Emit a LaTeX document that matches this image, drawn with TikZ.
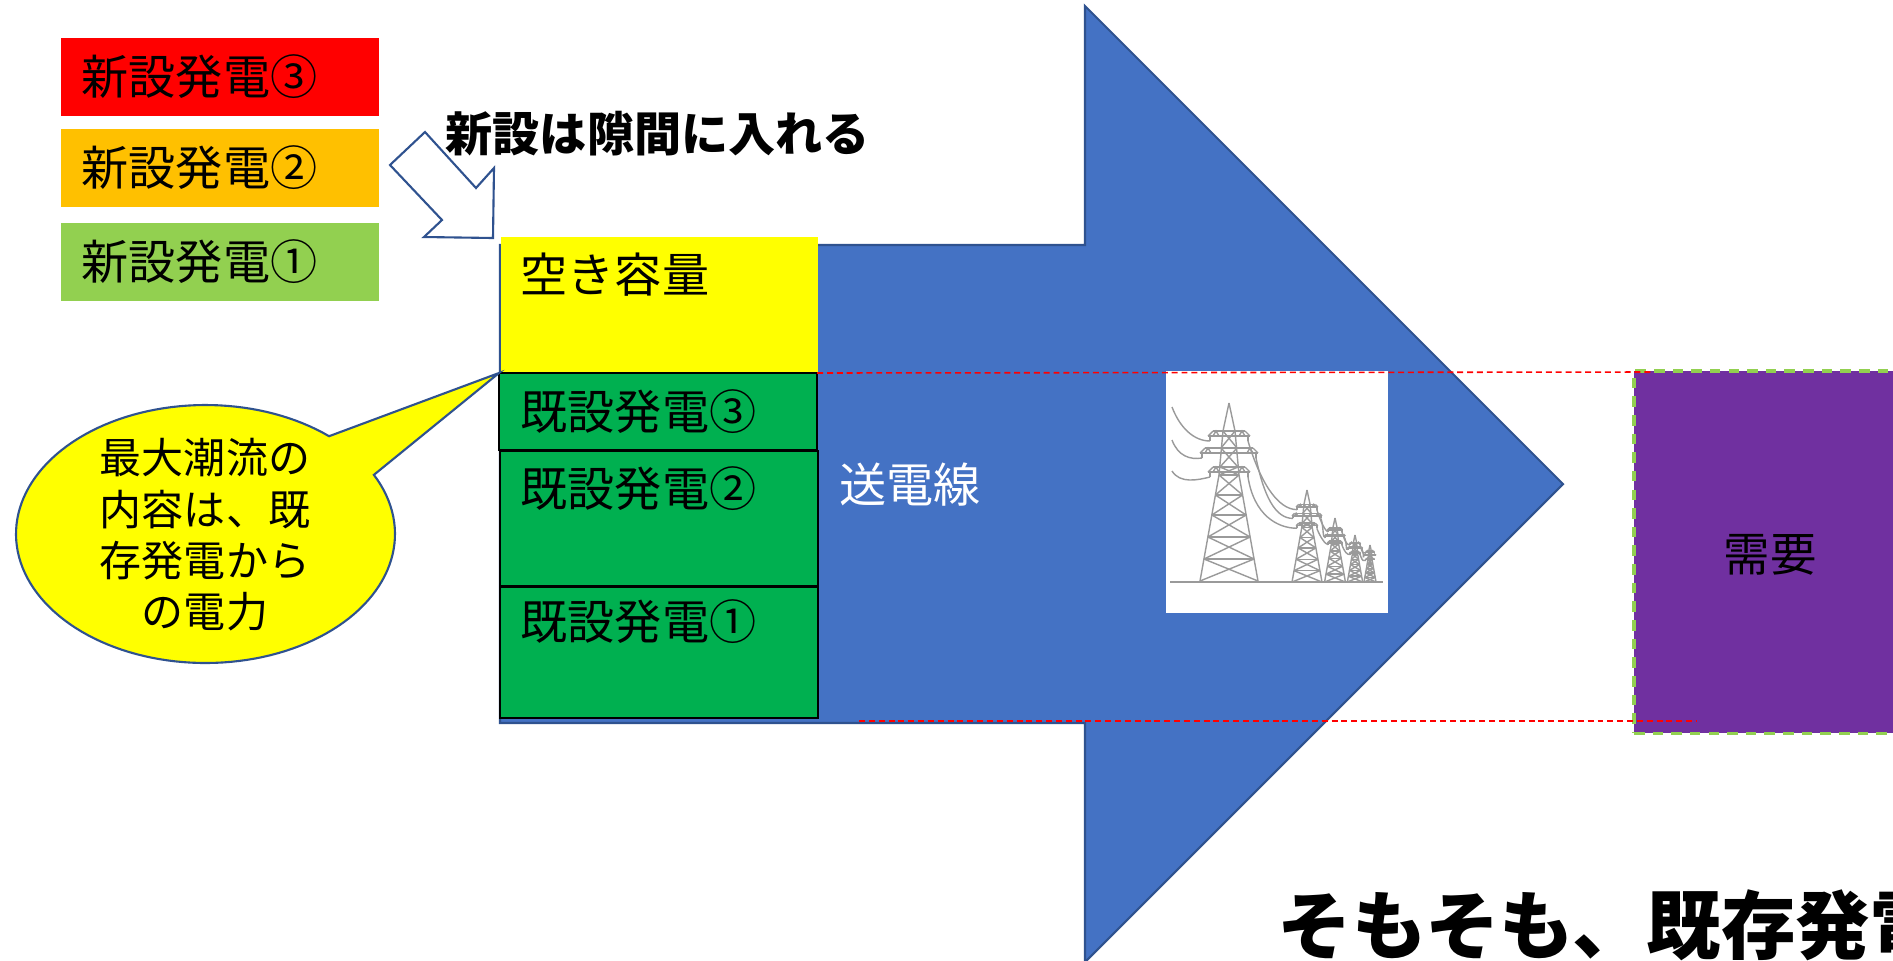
\documentclass[tikz,border=0pt]{standalone}
\usepackage{fontspec}
\setmainfont{Noto Sans CJK JP}
\definecolor{arrowblue}{HTML}{4472C4}
\definecolor{arrowedge}{HTML}{2F528F}
\definecolor{newred}{HTML}{FF0000}
\definecolor{neworange}{HTML}{FFC000}
\definecolor{newgreen}{HTML}{92D050}
\definecolor{oldgreen}{HTML}{00B050}
\definecolor{freeyellow}{HTML}{FFFF00}
\definecolor{demandpurple}{HTML}{7030A0}
\definecolor{wiregray}{HTML}{9A9A9A}

\tikzset{
  box/.style={anchor=north west, inner sep=0pt, outer sep=0pt},
  legendbox/.style={box, minimum width=3.18cm, minimum height=0.78cm},
  genbox/.style={box, fill=oldgreen, draw=black, line width=0.6pt, minimum width=3.18cm},
  lbl/.style={anchor=west, inner sep=0pt, font=\fontsize{13.4}{16}\selectfont},
  reddash/.style={draw=newred, line width=0.45pt, dash pattern=on 1.7pt off 1.1pt},
  wire/.style={draw=wiregray, line width=0.4pt},
  pylon/.pic={
    \begin{scope}[wire]
      % spire, body and legs
      \draw (0,0) -- (-6,28) -- (-10,72) -- (-29,178);
      \draw (0,0) -- (6,28) -- (10,72) -- (29,178);
      % three cross-arms with insulator strings
      \foreach \yy/\w in {28/21, 45/29, 64/21}{
        \draw (-\w,\yy+5) -- (\w,\yy+5);
        \draw (-\w+5,\yy) -- (\w-5,\yy);
        \draw (-\w,\yy+5) -- (-\w+5,\yy) (\w,\yy+5) -- (\w-5,\yy);
        \draw (-\w+5,\yy+5) -- (-\w+8,\yy) -- (-\w+11,\yy+5)
              (\w-5,\yy+5) -- (\w-8,\yy) -- (\w-11,\yy+5);
        \draw (-\w+2,\yy+5) -- (-\w+2,\yy+10) (\w-2,\yy+5) -- (\w-2,\yy+10);
      }
      % lattice of the upper body
      \draw (-6,28) -- (8,45) -- (-9,64) -- (10,72);
      \draw (6,28) -- (-8,45) -- (9,64) -- (-10,72);
      % lattice of the legs
      \foreach \a/\b in {72/92, 92/112, 112/134, 134/156, 156/178}{
        \draw ({-10-(\a-72)*0.1792},\a) -- ({10+(\b-72)*0.1792},\b);
        \draw ({10+(\a-72)*0.1792},\a) -- ({-10-(\b-72)*0.1792},\b);
        \draw ({-10-(\a-72)*0.1792},\a) -- ({10+(\a-72)*0.1792},\a);
      }
    \end{scope}
    \coordinate (-l1) at (-19,38);
    \coordinate (-l2) at (-27,55);
    \coordinate (-l3) at (-19,74);
    \coordinate (-r1) at (19,38);
    \coordinate (-r2) at (27,55);
    \coordinate (-r3) at (19,74);
  }
}

\begin{document}
\begin{tikzpicture}[x=0.01cm, y=-0.01cm]
\useasboundingbox (0,0) rectangle (1893,960);

% transmission line drawn as a large block arrow
\filldraw[fill=arrowblue, draw=arrowedge, line width=0.6pt, line join=miter]
  (500,245) -- (1085,245) -- (1085,6) -- (1563,484) -- (1085,962)
  -- (1085,723) -- (500,723) -- cycle;

% new generation legend
\node[legendbox, fill=newred]    (n3) at (61,38)  {};
\node[legendbox, fill=neworange] (n2) at (61,129) {};
\node[legendbox, fill=newgreen]  (n1) at (61,223) {};
\node[lbl] (n3t) at (81,77)  {新設発電③};
\node[lbl] (n2t) at (81,168) {新設発電②};
\node[lbl] (n1t) at (81,262) {新設発電①};

% capacity stack
\node[box, fill=freeyellow, minimum width=3.17cm, minimum height=1.35cm] (free) at (501,237) {};
\node[genbox, minimum height=0.77cm] (g3) at (499,373) {};
\node[genbox, minimum height=1.35cm] (g2) at (500,451) {};
\node[genbox, minimum height=1.31cm] (g1) at (500,587) {};
\node[lbl] (freet) at (520,275) {空き容量};
\node[lbl] (g3t) at (520,412) {既設発電③};
\node[lbl] (g2t) at (520,489) {既設発電②};
\node[lbl] (g1t) at (520,622) {既設発電①};

% hollow arrow pointing into the free capacity
\filldraw[fill=white, draw=arrowedge, line width=0.6pt, line join=miter]
  (425,132) -- (476,188) -- (494,168) -- (493,238) -- (424,237)
  -- (442,220) -- (390,165) -- cycle;
\node[lbl, font=\bfseries\fontsize{13.4}{16}\selectfont] (head) at (445,134) {新設は隙間に入れる};

% callout
\filldraw[fill=freeyellow, draw=arrowedge, line width=0.6pt]
  (g3.north west) -- plot[domain=-49.3:-387.3, samples=140]
  ({205.5+189.5*cos(\x)},{534+129*sin(\x)}) -- cycle;
\node[inner sep=0pt, align=center, font=\fontsize{11.95}{14.6}\selectfont] (callout) at (205,535)
  {最大潮流の\\内容は、既\\存発電から\\の電力};

% line label
\node[lbl, text=white] (line) at (839,485) {送電線};

% pylon picture
\node[box, fill=white, minimum width=2.22cm, minimum height=2.42cm] (photo) at (1166,371) {};
\coordinate (gndA) at (1170,582);
\coordinate (gndB) at (1383,582);
\draw[wire] (gndA) -- (gndB);
\pic (tA) at (1229,403) {pylon};
\pic[scale=0.517] (tB) at (1307,490) {pylon};
\pic[scale=0.36]  (tC) at (1335,518) {pylon};
\pic[scale=0.264] (tD) at (1355,535) {pylon};
\pic[scale=0.208] (tE) at (1370,545) {pylon};
\coordinate (w1) at (1172,407);
\coordinate (w2) at (1172,440);
\coordinate (w3) at (1172,471);
\draw[wire] (w1) .. controls (1180,428) and (1194,441) .. (tA-l1);
\draw[wire] (w2) .. controls (1178,456) and (1190,460) .. (tA-l2);
\draw[wire] (w3) .. controls (1180,484) and (1198,480) .. (tA-l3);
\draw[wire] (tA-r1) .. controls +(12,40) and +(-20,0) .. (tB-l1);
\draw[wire] (tA-r2) .. controls +(8,38) and +(-18,0) .. (tB-l2);
\draw[wire] (tA-r3) .. controls +(6,38) and +(-20,0) .. (tB-l3);
\foreach \p/\q in {tB/tC, tC/tD, tD/tE}{
  \draw[wire] (\p-r1) .. controls +(3,10) and +(-3,0) .. (\q-l1);
  \draw[wire] (\p-r2) .. controls +(3,10) and +(-3,0) .. (\q-l2);
  \draw[wire] (\p-r3) .. controls +(3,8) and +(-3,0) .. (\q-l3);
}

% demand
\node[box, fill=demandpurple, draw=newgreen, line width=0.9pt,
      dash pattern=on 3pt off 2.3pt, minimum width=2.72cm, minimum height=3.62cm,
      font=\fontsize{13.2}{16}\selectfont] (demand) at (1634,371) {};
\node[inner sep=0pt, font=\fontsize{13.2}{16}\selectfont] (demandt) at (1770,555) {需要};

% flow limits
\coordinate (topEnd) at (1652,372);
\coordinate (botStart) at (859,721);
\coordinate (botEnd) at (1697,721);
\draw[reddash] (g3.north east) -- (topEnd);
\draw[reddash] (botStart) -- (botEnd);

% closing statement
\node[anchor=base west, inner sep=0pt, font=\bfseries\fontsize{21.2}{25}\selectfont] (note) at (1277,953)
  {そもそも、既存発電};
\end{tikzpicture}
\end{document}
